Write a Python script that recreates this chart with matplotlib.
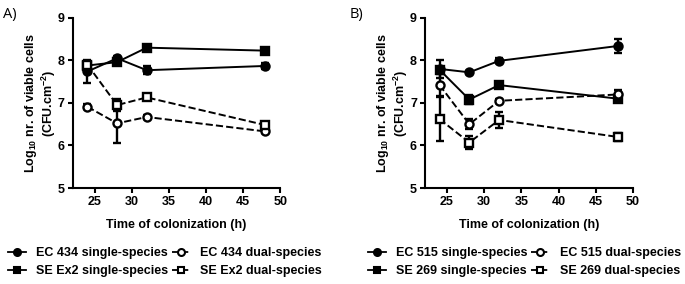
import matplotlib.pyplot as plt
from matplotlib.lines import Line2D
import numpy as np

plt.rcParams['font.family'] = ['Liberation Sans', 'DejaVu Sans']
plt.rcParams['mathtext.fontset'] = 'custom'
plt.rcParams['mathtext.rm'] = 'Liberation Sans:bold'
plt.rcParams['mathtext.it'] = 'Liberation Sans:bold'
plt.rcParams['mathtext.bf'] = 'Liberation Sans:bold'

t = [24, 28, 32, 48]

# -------- panel A
ec434_single = [7.74, 8.05, 7.77, 7.87]
ec434_single_err = [0.28, 0.05, 0.1, 0.07]
sex2_single = [7.88, 7.96, 8.30, 8.23]
sex2_single_err = [0.06, 0.06, 0.06, 0.07]
ec434_dual = [6.91, 6.52, 6.67, 6.33]
ec434_dual_err = [0.06, 0.47, 0.04, 0.04]
sex2_dual = [7.90, 6.95, 7.13, 6.48]
sex2_dual_err = [0.06, 0.14, 0.04, 0.06]

# -------- panel B
ec515_single = [7.80, 7.72, 7.99, 8.34]
ec515_single_err = [0.22, 0.03, 0.06, 0.17]
se269_single = [7.78, 7.08, 7.42, 7.10]
se269_single_err = [0.06, 0.1, 0.06, 0.06]
ec515_dual = [7.42, 6.50, 7.05, 7.20]
ec515_dual_err = [0.25, 0.12, 0.05, 0.1]
se269_dual = [6.62, 6.07, 6.60, 6.20]
se269_dual_err = [0.52, 0.16, 0.18, 0.1]

fig = plt.figure(figsize=(6.85, 2.84), dpi=100)
axA = fig.add_axes([0.106, 0.338, 0.303, 0.599])
axB = fig.add_axes([0.620, 0.338, 0.304, 0.599])

styles = [('o', 'black', '-'), ('s', 'black', '-'), ('o', 'white', '--'), ('s', 'white', '--')]


def draw(ax, series, labels):
    handles = []
    for (y, e), lab, (m, fc, ls) in zip(series, labels, styles):
        ax.errorbar(t, y, yerr=e, color='black', marker=m, mfc=fc, mec='black',
                    mew=1.7, ms=5.8, ls=ls, lw=1.4, capsize=3, capthick=1.3,
                    elinewidth=1.7)
        handles.append(Line2D([], [], color='black', marker=m, mfc=fc, mec='black',
                              mew=1.5, ms=5, ls=ls, lw=1.3, label=lab))
    ax.set_xlim(22, 50)
    ax.set_ylim(5, 9)
    ax.set_xticks([25, 30, 35, 40, 45, 50])
    ax.set_yticks([5, 6, 7, 8, 9])
    for s in ['top', 'right']:
        ax.spines[s].set_visible(False)
    for s in ['left', 'bottom']:
        ax.spines[s].set_linewidth(1.5)
    ax.tick_params(width=1.5, length=3.6, pad=2, labelsize=9)
    for lab in ax.get_xticklabels() + ax.get_yticklabels():
        lab.set_fontweight('bold')
    ax.set_xlabel('Time of colonization (h)', fontsize=9, fontweight='bold', labelpad=8)
    ax.set_ylabel('Log$_{10}$ nr. of viable cells\n(CFU.cm$^{-2}$)', fontsize=9,
                  fontweight='bold', labelpad=0, linespacing=1.05)
    return handles


hA = draw(axA, [(ec434_single, ec434_single_err), (sex2_single, sex2_single_err),
                (ec434_dual, ec434_dual_err), (sex2_dual, sex2_dual_err)],
          ['EC 434 single-species', 'SE Ex2 single-species', 'EC 434 dual-species', 'SE Ex2 dual-species'])
hB = draw(axB, [(ec515_single, ec515_single_err), (se269_single, se269_single_err),
                (ec515_dual, ec515_dual_err), (se269_dual, se269_dual_err)],
          ['EC 515 single-species', 'SE 269 single-species', 'EC 515 dual-species', 'SE 269 dual-species'])

legkw = dict(ncol=2, frameon=False, handlelength=1.4, handletextpad=0.85, columnspacing=0.3,
             labelspacing=0.5, borderpad=0, borderaxespad=0, loc='upper left',
             prop={'family': 'Liberation Sans', 'weight': 'bold', 'size': 9})
fig.legend(handles=hA, bbox_to_anchor=(8 / 685, 1 - 247 / 284), **legkw)
fig.legend(handles=hB, bbox_to_anchor=(368 / 685, 1 - 247 / 284), **legkw)

fig.text(0.005, 0.975, 'A)', fontsize=10.5, va='top', family='Open Sans')
fig.text(0.51, 0.975, 'B)', fontsize=10.5, va='top', family='Open Sans')

fig.savefig('out.png', dpi=100)
